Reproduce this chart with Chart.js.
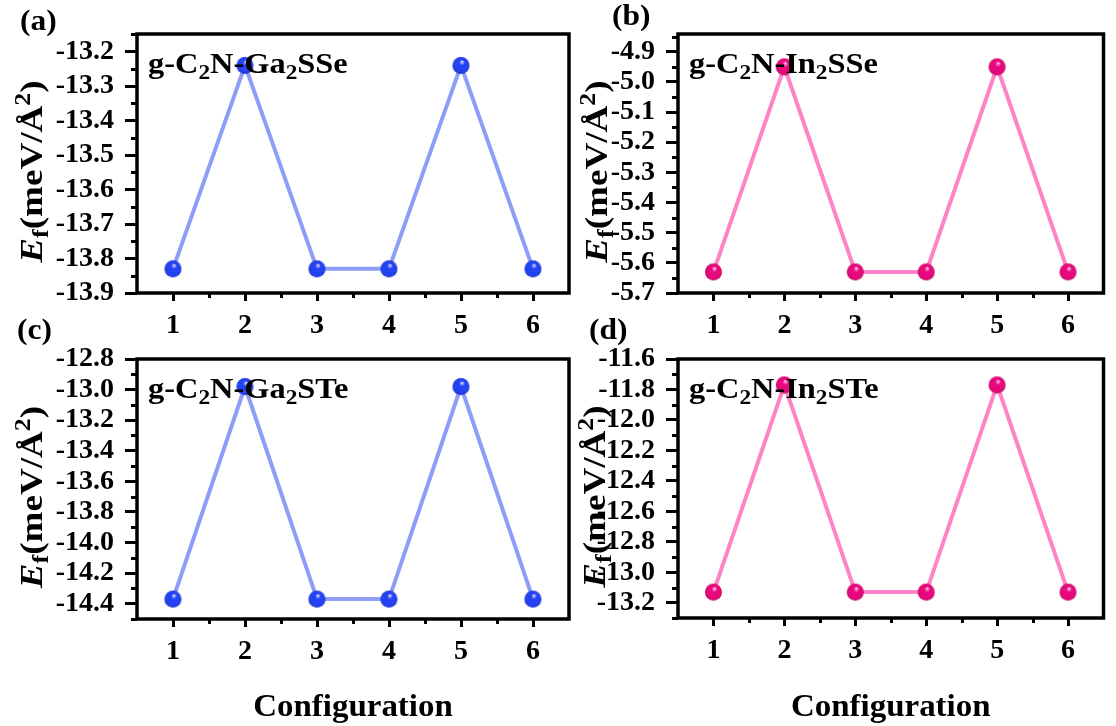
<!DOCTYPE html>
<html><head><meta charset="utf-8">
<script src="https://cdn.jsdelivr.net/npm/chart.js@4.4.1/dist/chart.umd.min.js"></script>
<style>
html,body{margin:0;padding:0;background:#fff;}
#wrap{position:relative;width:1116px;height:726px;overflow:hidden;background:#fff;}
canvas{position:absolute;left:0;top:0;}
</style></head><body>
<div id="wrap">
<canvas id="ca" width="1116" height="726"></canvas>
<canvas id="cb" width="1116" height="726"></canvas>
<canvas id="cc" width="1116" height="726"></canvas>
<canvas id="cd" width="1116" height="726"></canvas>
</div>
<script>
// ---- data ----
const configurations = [1, 2, 3, 4, 5, 6];
const xTicks = [1, 2, 3, 4, 5, 6];
const efGa2SSe = [-13.83, -13.24, -13.83, -13.83, -13.24, -13.83];
const efIn2SSe = [-5.63, -4.95, -5.63, -5.63, -4.95, -5.63];
const efGa2STe = [-14.37, -12.98, -14.37, -14.37, -12.98, -14.37];
const efIn2STe = [-13.13, -11.77, -13.13, -13.13, -11.77, -13.13];
const yTicksA = [-13.9, -13.8, -13.7, -13.6, -13.5, -13.4, -13.3, -13.2];
const yTicksB = [-5.7, -5.6, -5.5, -5.4, -5.3, -5.2, -5.1, -5.0, -4.9];
const yTicksC = [-14.4, -14.2, -14.0, -13.8, -13.6, -13.4, -13.2, -13.0, -12.8];
const yTicksD = [-13.2, -13.0, -12.8, -12.6, -12.4, -12.2, -12.0, -11.8, -11.6];
const panelLabels = ['(a)', '(b)', '(c)', '(d)'];
const nameA = [['g-C'], ['2', 'sub'], ['N-Ga'], ['2', 'sub'], ['SSe']];
const nameB = [['g-C'], ['2', 'sub'], ['N-In'], ['2', 'sub'], ['SSe']];
const nameC = [['g-C'], ['2', 'sub'], ['N-Ga'], ['2', 'sub'], ['STe']];
const nameD = [['g-C'], ['2', 'sub'], ['N-In'], ['2', 'sub'], ['STe']];
const yTitle = [['E', 'it'], ['f', 'sub'], ['(meV/Å'], ['2', 'sup'], [')']];
const xTitle = 'Configuration';

const FONT = '"Liberation Serif", "Times New Roman", serif';
const BLUE = {line: '#8e9ef7', base: '#2342f2', light: '#e2e6ff', dark: '#0b1fb8'};
const PINK = {line: '#fd84c6', base: '#e8087e', light: '#ffd4ea', dark: '#a8004f'};

function sphere(c, r) {
  const cv = document.createElement('canvas');
  const s = Math.ceil(2 * r + 2);
  cv.width = cv.height = s;
  const g = cv.getContext('2d');
  const cx = s / 2, cy = s / 2;
  const grad = g.createRadialGradient(cx + 0.15 * r, cy - 0.45 * r, 0.3, cx, cy, r);
  grad.addColorStop(0, c.light);
  grad.addColorStop(0.3, c.base);
  grad.addColorStop(0.85, c.base);
  grad.addColorStop(1, c.dark);
  g.fillStyle = grad;
  g.beginPath(); g.arc(cx, cy, r, 0, Math.PI * 2); g.fill();
  return cv;
}

// draws mixed-style text; sx stretches along the text direction
function drawRich(ctx, segs, x, y, size, align, sx, subScale) {
  sx = sx || 1; subScale = subScale || 0.68;
  let w = 0;
  const parts = segs.map(s => {
    const small = s[1] === 'sub' || s[1] === 'sup';
    const fs = small ? size * subScale : size;
    const font = (s[1] === 'it' ? 'italic ' : '') + 'bold ' + fs + 'px ' + FONT;
    ctx.font = font;
    const mw = ctx.measureText(s[0]).width;
    w += mw;
    return {t: s[0], font, mw, dy: s[1] === 'sub' ? size * 0.2 : (s[1] === 'sup' ? -size * 0.36 : 0)};
  });
  ctx.save();
  ctx.translate(x, y);
  ctx.scale(sx, 1);
  let cx = align === 'center' ? -w / 2 : 0;
  ctx.textAlign = 'left';
  ctx.textBaseline = 'alphabetic';
  ctx.fillStyle = '#000';
  for (const p of parts) { ctx.font = p.font; ctx.fillText(p.t, cx, p.dy); cx += p.mw; }
  ctx.restore();
}

const panels = [
  {id: 'ca', values: efGa2SSe, yTicks: yTicksA, yMin: -13.9, yMax: -13.149, c: BLUE, name: nameA, label: panelLabels[0],
   area: {l: 137, t: 34, r: 569, b: 293}, titleDx: -106, labelPos: [20, 30], bottom: false},
  {id: 'cb', values: efIn2SSe, yTicks: yTicksB, yMin: -5.7, yMax: -4.841, c: PINK, name: nameB, label: panelLabels[1],
   area: {l: 678, t: 34, r: 1111, b: 293}, titleDx: -82, labelPos: [612, 25], bottom: false},
  {id: 'cc', values: efGa2STe, yTicks: yTicksC, yMin: -14.5, yMax: -12.8, c: BLUE, name: nameC, label: panelLabels[2],
   area: {l: 137, t: 359, r: 569, b: 619}, titleDx: -106, labelPos: [17, 339], bottom: true},
  {id: 'cd', values: efIn2STe, yTicks: yTicksD, yMin: -13.3, yMax: -11.6, c: PINK, name: nameD, label: panelLabels[3],
   area: {l: 678, t: 359, r: 1111, b: 618}, titleDx: -84, labelPos: [589, 339], bottom: true},
];

const decor = {
  id: 'decor',
  afterDraw(chart, args, opts) {
    const p = opts.panel;
    const ctx = chart.ctx;
    const a = chart.chartArea;
    const xs = chart.scales.x, ys = chart.scales.y;
    ctx.save();
    ctx.strokeStyle = '#000';
    ctx.lineWidth = 3;
    ctx.lineCap = 'butt';
    // minor y ticks
    const yt = p.yTicks;
    const half = (yt[1] - yt[0]) / 2;
    const minors = [];
    for (let i = 0; i < yt.length - 1; i++) minors.push(yt[i] + half);
    if (yt[0] - half >= p.yMin - 1e-9) minors.push(yt[0] - half);
    if (yt[yt.length - 1] + half <= p.yMax + 1e-9) minors.push(yt[yt.length - 1] + half);
    ctx.beginPath();
    for (const v of minors) {
      const py = Math.round(ys.getPixelForValue(v)) + 0.5;
      ctx.moveTo(a.left - 6, py); ctx.lineTo(a.left, py);
    }
    // minor x ticks
    for (let i = 0; i < xTicks.length - 1; i++) {
      const px = Math.round(xs.getPixelForValue((xTicks[i] + xTicks[i + 1]) / 2)) + 0.5;
      ctx.moveTo(px, a.bottom); ctx.lineTo(px, a.bottom + 5);
    }
    ctx.stroke();
    // frame
    ctx.lineWidth = 3.5;
    ctx.strokeRect(a.left, a.top, a.right - a.left, a.bottom - a.top);
    // compound name
    drawRich(ctx, p.name, a.left + 11, a.top + 39, 30, 'left', 1.08, 0.72);
    // y title
    ctx.save();
    ctx.translate(a.left + p.titleDx, (a.top + a.bottom) / 2 + 8);
    ctx.rotate(-Math.PI / 2);
    drawRich(ctx, yTitle, 0, 11, 32, 'center', 1.16, 0.7);
    ctx.restore();
    // panel label
    drawRich(ctx, [[p.label]], p.labelPos[0], p.labelPos[1], 30, 'left', 1.05);
    // x title
    if (p.bottom) {
      drawRich(ctx, [[xTitle]], (a.left + a.right) / 2, 716, 32, 'center', 1.03);
    }
    ctx.restore();
  }
};

function makeChart(p) {
  const yW = 90, xH = 40;
  const tickFont = {family: FONT, weight: 'bold', size: 28};
  new Chart(document.getElementById(p.id), {
    type: 'line',
    data: {
      datasets: [{
        data: configurations.map((c, i) => ({x: c, y: p.values[i]})),
        borderColor: p.c.line,
        borderWidth: 4,
        pointStyle: sphere(p.c, 8.5),
        pointRadius: 8.5,
        tension: 0,
        fill: false,
        clip: false
      }]
    },
    options: {
      responsive: false,
      maintainAspectRatio: false,
      animation: false,
      events: [],
      layout: {padding: {left: p.area.l - yW, top: p.area.t, right: 1116 - p.area.r, bottom: 726 - p.area.b - xH}},
      plugins: {legend: {display: false}, tooltip: {enabled: false}, decor: {panel: p}},
      scales: {
        x: {
          type: 'linear', min: 0.5, max: 6.5,
          afterBuildTicks: s => { s.ticks = xTicks.map(v => ({value: v})); },
          afterFit: s => { s.height = xH; },
          grid: {drawOnChartArea: false, tickLength: 8, tickWidth: 3, tickColor: '#000'},
          border: {display: false},
          ticks: {font: tickFont, color: '#000', padding: 8, maxRotation: 0, autoSkip: false, callback: v => String(v)}
        },
        y: {
          type: 'linear', min: p.yMin, max: p.yMax,
          afterBuildTicks: s => { s.ticks = p.yTicks.map(v => ({value: v})); },
          afterFit: s => { s.width = yW; },
          grid: {drawOnChartArea: false, tickLength: 12, tickWidth: 3, tickColor: '#000'},
          border: {display: false},
          ticks: {font: tickFont, color: '#000', padding: 11, autoSkip: false, callback: v => v.toFixed(1)}
        }
      }
    },
    plugins: [decor]
  });
}
panels.forEach(makeChart);
</script>
</body></html>
